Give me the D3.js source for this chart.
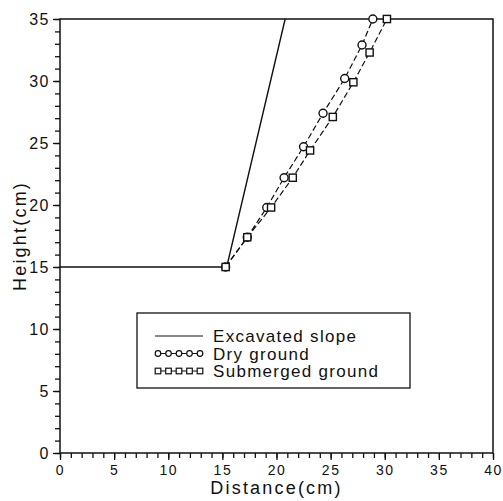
<!DOCTYPE html>
<html>
<head>
<meta charset="utf-8">
<script src="https://cdn.jsdelivr.net/npm/d3@7"></script>
<style>
  body { margin: 0; background: #fff; }
  text { font-family: "Liberation Sans", Arial, sans-serif; fill: #111; }
  .axis_x .tick text { font-size: 14px; letter-spacing: 1.5px; }
  .axis_y .tick text { font-size: 16px; letter-spacing: 1.5px; }
  .axis_label { font-size: 18px; letter-spacing: 2.2px; }
  .legend text { font-size: 17px; letter-spacing: 1.3px; }
</style>
</head>
<body>
<svg width="503" height="501"></svg>
<script>
var svg = d3.select("svg"),
  margin = { left: 60, right: 10, top: 19, bottom: 48 },
  width = 503 - margin.left - margin.right,
  height = 501 - margin.top - margin.bottom,
  g = svg.append("g")
    .attr("transform", "translate(" + margin.left + "," + margin.top + ")");

// data
var slopeX = [0, 15.4, 20.8];
var slopeY = [15, 15, 35];

var dryX = [15.3, 17.3, 19.1, 20.7, 22.5, 24.3, 26.3, 27.9, 28.9];
var dryY = [15, 17.4, 19.8, 22.2, 24.7, 27.4, 30.2, 32.9, 35];

var subX = [15.3, 17.3, 19.5, 21.5, 23.1, 25.2, 27.1, 28.6, 30.2];
var subY = [15, 17.4, 19.8, 22.2, 24.4, 27.1, 29.9, 32.3, 35];

var xTicks = [0, 5, 10, 15, 20, 25, 30, 35, 40];
var yTicks = [0, 5, 10, 15, 20, 25, 30, 35];
var legendLabels = ["Excavated slope", "Dry ground", "Submerged ground"];

var x = d3.scaleLinear().domain([0, 40]).range([0, width]);
var y = d3.scaleLinear().domain([0, 35]).range([height, 0]);

var zip = (xs, ys) => xs.map((v, i) => [v, ys[i]]);
var line = d3.line().x(d => x(d[0])).y(d => y(d[1]));

// frame
g.append("rect")
  .attr("width", width).attr("height", height)
  .attr("fill", "none").attr("stroke", "#111").attr("stroke-width", 1.5);

// minor ticks
g.append("g")
  .attr("transform", "translate(0," + height + ")")
  .call(d3.axisBottom(x).tickValues(d3.range(0, 41, 1)).tickSize(5).tickFormat(""))
  .call(a => a.select(".domain").remove());
g.append("g")
  .call(d3.axisLeft(y).tickValues(d3.range(0, 36, 1)).tickSize(5).tickFormat(""))
  .call(a => a.select(".domain").remove());

// major ticks
g.append("g")
  .attr("class", "axis_x")
  .attr("transform", "translate(0," + height + ")")
  .call(d3.axisBottom(x).tickValues(xTicks).tickSize(7).tickPadding(5))
  .call(a => a.select(".domain").remove());
g.append("g")
  .attr("class", "axis_y")
  .call(d3.axisLeft(y).tickValues(yTicks).tickSize(7).tickPadding(3))
  .call(a => a.select(".domain").remove());

g.selectAll(".tick line").attr("stroke", "#111").attr("stroke-width", 1.3);

// excavated slope
g.append("path")
  .datum(zip(slopeX, slopeY))
  .attr("d", line)
  .attr("fill", "none").attr("stroke", "#111").attr("stroke-width", 1.4);

// dry ground
g.append("path")
  .datum(zip(dryX, dryY))
  .attr("d", line)
  .attr("fill", "none").attr("stroke", "#111").attr("stroke-width", 1.2)
  .attr("stroke-dasharray", "6,3");
g.selectAll("circle.dry")
  .data(zip(dryX, dryY))
  .enter().append("circle")
  .attr("class", "dry")
  .attr("cx", d => x(d[0])).attr("cy", d => y(d[1]))
  .attr("r", 4)
  .attr("fill", "#fff").attr("stroke", "#111").attr("stroke-width", 1.4);

// submerged ground
g.append("path")
  .datum(zip(subX, subY))
  .attr("d", line)
  .attr("fill", "none").attr("stroke", "#111").attr("stroke-width", 1.2)
  .attr("stroke-dasharray", "6,3");
g.selectAll("rect.sub")
  .data(zip(subX, subY))
  .enter().append("rect")
  .attr("class", "sub")
  .attr("x", d => x(d[0]) - 3.6).attr("y", d => y(d[1]) - 3.6)
  .attr("width", 7.2).attr("height", 7.2)
  .attr("fill", "#fff").attr("stroke", "#111").attr("stroke-width", 1.4);

// axis labels
g.append("text")
  .attr("class", "axis_label")
  .attr("text-anchor", "middle")
  .attr("x", width / 2).attr("y", height + 41)
  .text("Distance(cm)");
g.append("text")
  .attr("class", "axis_label")
  .attr("text-anchor", "middle")
  .attr("transform", "translate(" + (-34) + "," + height / 2 + ")rotate(-90)")
  .text("Height(cm)");

// legend
var legend = { x: 77, y: 294, w: 273, h: 75, row: 17.5, sx: 18, sw: 48 };
var lg = g.append("g").attr("class", "legend")
  .attr("transform", "translate(" + legend.x + "," + legend.y + ")");
lg.append("rect")
  .attr("width", legend.w).attr("height", legend.h)
  .attr("fill", "#fff").attr("stroke", "#111").attr("stroke-width", 1.3);

legendLabels.forEach(function (lab, i) {
  var cy = 23 + legend.row * i;
  lg.append("line")
    .attr("x1", legend.sx).attr("x2", legend.sx + legend.sw)
    .attr("y1", cy).attr("y2", cy)
    .attr("stroke", "#111").attr("stroke-width", 1.2);
  if (i > 0) {
    d3.range(5).forEach(function (k) {
      var mx = legend.sx + 3 + k * 10.5;
      if (i === 1) {
        lg.append("circle").attr("cx", mx).attr("cy", cy).attr("r", 2.8)
          .attr("fill", "#fff").attr("stroke", "#111").attr("stroke-width", 1.2);
      } else {
        lg.append("rect").attr("x", mx - 2.8).attr("y", cy - 2.8)
          .attr("width", 5.6).attr("height", 5.6)
          .attr("fill", "#fff").attr("stroke", "#111").attr("stroke-width", 1.2);
      }
    });
  }
  lg.append("text")
    .attr("x", legend.sx + legend.sw + 10)
    .attr("y", cy + 6)
    .text(lab);
});
</script>
</body>
</html>
